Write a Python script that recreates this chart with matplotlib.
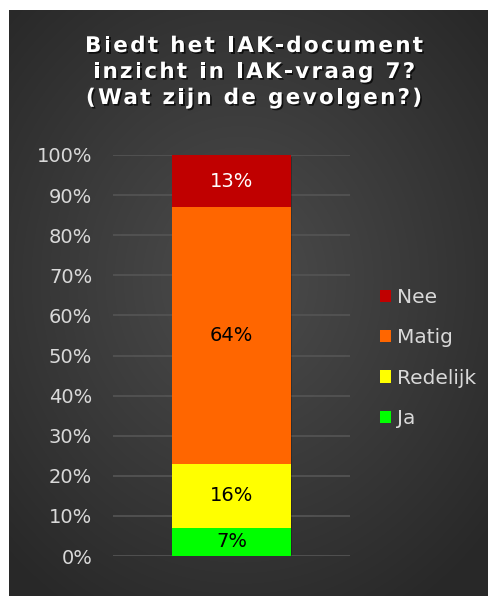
import numpy as np
import matplotlib
matplotlib.use('Agg')
import matplotlib.pyplot as plt
from matplotlib.patches import Patch
from matplotlib.font_manager import FontProperties
import matplotlib.patheffects as pe

# data
categories = ['Ja', 'Redelijk', 'Matig', 'Nee']
values = [7, 16, 64, 13]
colors = ['#00FF00', '#FFFF00', '#FF6600', '#C00000']
label_colors = ['black', 'black', 'black', 'white']
title_lines = ['Biedt het IAK-document', 'inzicht in IAK-vraag 7?', '(Wat zijn de gevolgen?)']
yticks = list(range(0, 101, 10))

W, H = 488, 596
fig = plt.figure(figsize=(W / 100, H / 100), dpi=100)
fig.patch.set_facecolor('white')

# dark panel with radial gradient
bg = fig.add_axes([9 / W, 0, 1 - 9 / W, (H - 10) / H])
bg.set_axis_off()
yy, xx = np.mgrid[0:586, 0:479]
cx, cy = 230, 270
r = np.sqrt(((xx - cx) / 330.0) ** 2 + ((yy - cy) / 380.0) ** 2)
r = np.clip(r, 0, 1)
val = 0.30 - 0.14 * r
img = np.dstack([val, val, val])
bg.imshow(img, aspect='auto', extent=[0, 1, 0, 1], origin='upper')
bg.set_xlim(0, 1)
bg.set_ylim(0, 1)

# chart axes
ax = fig.add_axes([113 / W, (H - 556) / H, 237 / W, 401 / H])
ax.patch.set_alpha(0)
bottom = 0
for v, c, lc in zip(values, colors, label_colors):
    # soft shadow
    ax.bar(0.006, v, width=0.5, bottom=bottom - 0.5, color='black', alpha=0.25, zorder=2)
    ax.bar(0, v, width=0.5, bottom=bottom, color=c, zorder=3)
    ax.text(0, bottom + v / 2, f'{v}%', ha='center', va='center', fontsize=14,
            color=lc, zorder=4)
    bottom += v

ax.set_xlim(-0.5, 0.5)
ax.set_ylim(0, 100)
ax.set_yticks(yticks)
ax.set_yticklabels([f'{t}%' for t in yticks])
ax.tick_params(axis='y', length=0, pad=15, labelsize=14, labelcolor='#d9d9d9')
ax.set_xticks([])
for s in ax.spines.values():
    s.set_visible(False)
ax.grid(axis='y', color='#535353', linewidth=1.3, zorder=1)
ax.set_axisbelow(True)

# legend
handles = [Patch(facecolor=c, edgecolor='none', label=n)
           for n, c in zip(categories[::-1], colors[::-1])]
leg = fig.legend(handles=handles, loc='center left', bbox_to_anchor=(380 / W, (H - 358) / H),
                 frameon=False, fontsize=14.5, labelcolor='#d9d9d9', handlelength=0.55,
                 handleheight=0.55, handletextpad=0.28, labelspacing=1.05, borderpad=0,
                 borderaxespad=0)

# letter-spaced title with shadow
renderer = fig.canvas.get_renderer()
fp = FontProperties(family='DejaVu Sans', weight='bold', size=15.5)


def char_width(ch):
    w1, _, _ = renderer.get_text_width_height_descent('a' + ch + 'a', fp, ismath=False)
    w0, _, _ = renderer.get_text_width_height_descent('aa', fp, ismath=False)
    return w1 - w0


spacing = 2.3
line_y = [46, 72, 98]
shadow = [pe.withSimplePatchShadow(offset=(1.2, -1.2), shadow_rgbFace='black', alpha=0.7)]
for line, y in zip(title_lines, line_y):
    widths = [char_width(ch) for ch in line]
    total = sum(widths) + spacing * (len(line) - 1)
    x = 254 - total / 2
    for ch, w in zip(line, widths):
        if ch != ' ':
            fig.text(x / W, 1 - y / H, ch, fontproperties=fp, color='white',
                     ha='left', va='center', path_effects=shadow)
        x += w + spacing

fig.savefig('out.png', dpi=100)
